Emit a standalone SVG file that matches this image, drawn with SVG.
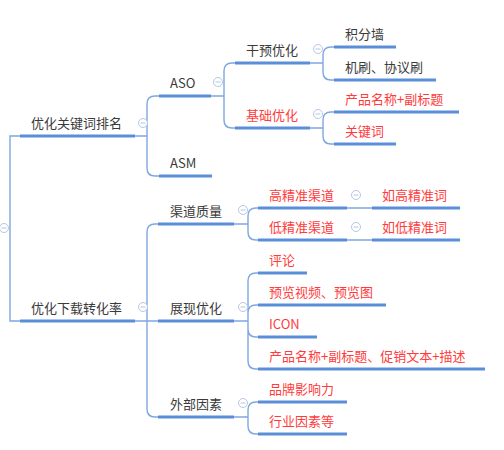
<svg xmlns="http://www.w3.org/2000/svg" width="504" height="450" viewBox="0 0 504 450">
<style>
text{font-family:"Microsoft YaHei","Noto Sans CJK SC","Liberation Sans",sans-serif;font-size:13px;fill:#3a3a3a}
text.r{fill:#ff3b3b}
.u{stroke:#5a8fd8;stroke-width:3;fill:none}
.c{stroke:#7fa7e0;stroke-width:1.4;fill:none}
</style>
<rect width="504" height="450" fill="#fff"/>
<defs>
<g id="col"><circle r="4.5" fill="#fff" stroke="#b4c7e2" stroke-width="1"/><line x1="-2.5" y1="0" x2="2.5" y2="0" stroke="#b4c7e2" stroke-width="1"/></g>
</defs>
<g id="connectors">
<path class="c" d="M20,136 H10 V321 H20"/>
<path class="c" d="M135,136 H147 M147,136 V104 Q147,96 155,96 H159 M147,136 V168 Q147,176 155,176 H159"/>
<path class="c" d="M211,96 H224 M224,96 V71 Q224,63 232,63 H235 M224,96 V120 Q224,128 232,128 H235"/>
<path class="c" d="M310,63 H323 M323,63 V55 Q323,47 331,47 H334 M323,63 V72 Q323,80 331,80 H334"/>
<path class="c" d="M310,128 H323 M323,128 V120 Q323,112 331,112 H334 M323,128 V136 Q323,144 331,144 H334"/>
<path class="c" d="M135,321 H158 M147,321 V232 Q147,224 155,224 H158 M147,321 V409 Q147,417 155,417 H158"/>
<path class="c" d="M234,224 H248 M248,224 V216 Q248,208 256,208 H258 M248,224 V232 Q248,240 256,240 H258"/>
<path class="c" d="M234,321 H248 M248,321 V281 Q248,273 256,273 H258 M248,321 V313 Q248,305 256,305 H258 M248,321 V329 Q248,337 256,337 H258 M248,321 V361 Q248,369 256,369 H258"/>
<path class="c" d="M234,417 H248 M248,417 V410 Q248,402 256,402 H258 M248,417 V426 Q248,434 256,434 H258"/>
<path class="c" d="M347,208 H372 M347,240 H372"/>
</g>
<g id="collapse-icons">
<use href="#col" x="4" y="228"/>
<use href="#col" x="143" y="123"/>
<use href="#col" x="218" y="82"/>
<use href="#col" x="318" y="49"/>
<use href="#col" x="318" y="114"/>
<use href="#col" x="143" y="307"/>
<use href="#col" x="243" y="210"/>
<use href="#col" x="356" y="195"/>
<use href="#col" x="356" y="227"/>
<use href="#col" x="243" y="307"/>
<use href="#col" x="243" y="403"/>
</g>
<g id="n1"><text x="31" y="128">优化关键词排名</text><line class="u" x1="20" y1="136" x2="135" y2="136"/></g>
<g id="n2"><text x="170" y="88">ASO</text><line class="u" x1="159" y1="96" x2="211" y2="96"/></g>
<g id="n3"><text x="170" y="168">ASM</text><line class="u" x1="159" y1="176" x2="212" y2="176"/></g>
<g id="n4"><text x="246" y="55">干预优化</text><line class="u" x1="235" y1="63" x2="310" y2="63"/></g>
<g id="n5"><text class="r" x="246" y="120">基础优化</text><line class="u" x1="235" y1="128" x2="310" y2="128"/></g>
<g id="n6"><text x="345" y="39">积分墙</text><line class="u" x1="334" y1="47" x2="396" y2="47"/></g>
<g id="n7"><text x="345" y="72">机刷、协议刷</text><line class="u" x1="334" y1="80" x2="436" y2="80"/></g>
<g id="n8"><text class="r" x="345" y="104">产品名称+副标题</text><line class="u" x1="334" y1="112" x2="459" y2="112"/></g>
<g id="n9"><text class="r" x="345" y="136">关键词</text><line class="u" x1="334" y1="144" x2="396" y2="144"/></g>
<g id="n10"><text x="31" y="313">优化下载转化率</text><line class="u" x1="20" y1="321" x2="135" y2="321"/></g>
<g id="n11"><text x="170" y="216">渠道质量</text><line class="u" x1="158" y1="224" x2="234" y2="224"/></g>
<g id="n12"><text x="170" y="313">展现优化</text><line class="u" x1="158" y1="321" x2="234" y2="321"/></g>
<g id="n13"><text x="170" y="409">外部因素</text><line class="u" x1="158" y1="417" x2="234" y2="417"/></g>
<g id="n14"><text class="r" x="269" y="200">高精准渠道</text><line class="u" x1="258" y1="208" x2="347" y2="208"/></g>
<g id="n15"><text class="r" x="382" y="200">如高精准词</text><line class="u" x1="372" y1="208" x2="460" y2="208"/></g>
<g id="n16"><text class="r" x="269" y="232">低精准渠道</text><line class="u" x1="258" y1="240" x2="347" y2="240"/></g>
<g id="n17"><text class="r" x="382" y="232">如低精准词</text><line class="u" x1="372" y1="240" x2="460" y2="240"/></g>
<g id="n18"><text class="r" x="269" y="265">评论</text><line class="u" x1="258" y1="273" x2="307" y2="273"/></g>
<g id="n19"><text class="r" x="269" y="297">预览视频、预览图</text><line class="u" x1="258" y1="305" x2="386" y2="305"/></g>
<g id="n20"><text class="r" x="269" y="329">ICON</text><line class="u" x1="258" y1="337" x2="317" y2="337"/></g>
<g id="n21"><text class="r" x="269" y="361">产品名称+副标题、促销文本+描述</text><line class="u" x1="258" y1="369" x2="485" y2="369"/></g>
<g id="n22"><text class="r" x="269" y="394">品牌影响力</text><line class="u" x1="258" y1="402" x2="347" y2="402"/></g>
<g id="n23"><text class="r" x="269" y="426">行业因素等</text><line class="u" x1="258" y1="434" x2="347" y2="434"/></g>
</svg>
